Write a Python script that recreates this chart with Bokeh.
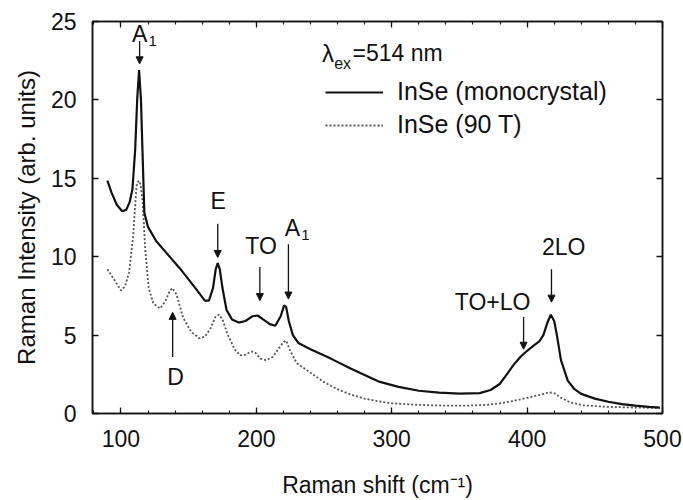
from bokeh.plotting import figure
from bokeh.models import (Range1d, LinearAxis, SingleIntervalTicker, Label, Arrow,
                          NormalHead, Legend, LegendItem, ColumnDataSource,
                          CustomLabelingPolicy)
from bokeh.embed import file_html
from bokeh.resources import INLINE

# ---- data ----
mono_x = [90, 93, 97, 101, 104, 106.5, 108.5, 110.5, 112, 113.4, 114.8, 116, 117.3, 120, 126,
          135, 145, 155, 162, 165, 168, 170, 171.5, 173, 175, 178, 182, 187, 192, 197, 201,
          205, 210, 214, 218, 220.5, 222, 224, 227, 231, 240, 255, 270, 280, 290, 305, 320,
          335, 350, 365, 373, 380, 385, 390, 395, 400, 405, 409, 412, 415, 417.5, 420, 422,
          425, 430, 435, 440, 450, 460, 470, 480, 490, 498]
mono_y = [14.85, 14.1, 13.3, 12.9, 13.0, 13.5, 14.3, 16.8, 20.0, 21.9, 20.0, 16.5, 12.8, 11.9, 11.0,
          10.1, 9.1, 8.0, 7.2, 7.2, 8.0, 9.2, 9.6, 9.2, 8.0, 6.6, 6.0, 5.8, 5.9, 6.2, 6.25,
          6.0, 5.7, 5.6, 6.2, 6.9, 6.8, 5.9, 5.0, 4.5, 4.1, 3.5, 2.85, 2.45, 2.05, 1.7, 1.45,
          1.33, 1.27, 1.3, 1.5, 1.9, 2.5, 3.1, 3.6, 4.0, 4.35, 4.6, 5.0, 5.8, 6.3, 5.9, 5.0,
          3.4, 2.1, 1.55, 1.25, 0.95, 0.75, 0.6, 0.5, 0.42, 0.38]

t90_x = [90, 93, 96, 100, 103, 106, 109, 111.5, 113, 114.5, 116, 118, 120.5, 124, 129, 133, 136,
         138, 141, 146, 152, 158, 162, 166, 170, 172.5, 175, 179, 184, 188, 192, 196, 199, 203,
         207, 212, 217, 220, 222, 225, 230, 240, 250, 260, 270, 280, 290, 300, 320, 340, 355,
         370, 380, 390, 400, 410, 416, 420, 425, 432, 442, 460, 480, 498]
t90_y = [9.2, 8.8, 8.4, 7.85, 8.1, 9.0, 11.3, 14.5, 14.85, 14.6, 13.5, 10.4, 8.0, 7.0, 6.7, 7.2, 7.8,
         8.0, 7.6, 6.1, 5.2, 4.8, 4.9, 5.4, 6.2, 6.3, 6.0, 5.0, 4.1, 3.7, 3.75, 3.95, 3.9, 3.5,
         3.4, 3.6, 4.2, 4.55, 4.65, 4.0, 3.2, 2.6, 2.0, 1.55, 1.2, 0.95, 0.78, 0.65, 0.55, 0.5, 0.5,
         0.55, 0.65, 0.8, 1.0, 1.2, 1.35, 1.3, 1.0, 0.7, 0.52, 0.42, 0.38, 0.35]

series_labels = ["InSe (monocrystal)", "InSe (90 T)"]

# peak annotations
ann_text = ["E", "TO", "2LO", "TO+LO", "D"]
ann_x = [171.9, 203.5, 427.0, 374.5, 140.4]
ann_y = [13.58, 10.7, 10.6, 7.1, 2.3]

a1_x = [113.9, 226.6]
a1_y = [24.23, 11.8]

arr_x = [113.8, 171.5, 202.6, 223.7, 418.0, 397.4, 138.2]
arr_y0 = [23.75, 12.1, 9.35, 10.8, 9.2, 6.15, 3.6]
arr_y1 = [22.3, 9.95, 7.2, 7.3, 7.1, 4.1, 6.45]

FONT = "Liberation Sans"
TXT = "#111111"

p = figure(width=683, height=500, x_range=Range1d(79, 500), y_range=Range1d(0, 25),
           output_backend="svg", toolbar_location=None,
           min_border_left=92, min_border_right=21, min_border_top=21, min_border_bottom=87)
p.xgrid.visible = False
p.ygrid.visible = False
p.outline_line_color = "#111111"
p.outline_line_width = 1.5
p.background_fill_color = "white"
p.border_fill_color = "white"

xt = SingleIntervalTicker(interval=100, num_minor_ticks=5)
yt = SingleIntervalTicker(interval=5, num_minor_ticks=0)

def style_axis(ax, labels=True):
    ax.axis_line_color = "#111111"
    ax.axis_line_width = 1.5
    ax.major_tick_in = 6
    ax.major_tick_out = 0
    ax.minor_tick_in = 3
    ax.minor_tick_out = 0
    ax.major_tick_line_color = "#111111"
    ax.minor_tick_line_color = "#111111"
    ax.major_tick_line_width = 1.3
    ax.minor_tick_line_width = 1.1
    ax.major_label_text_font = FONT
    ax.major_label_text_color = TXT
    if labels:
        ax.major_label_text_font_size = "23px"
    else:
        ax.major_label_text_font_size = "8px"
        ax.major_label_standoff = 0
        ax.major_label_policy = CustomLabelingPolicy(code="return new Set()")

xa = p.xaxis[0]
xa.ticker = xt
style_axis(xa)
xa.major_label_standoff = 16
xa.axis_label = "Raman shift (cm\u207b\u00b9)"
xa.axis_label_text_font = FONT
xa.axis_label_text_font_size = "23px"
xa.axis_label_text_font_style = "normal"
xa.axis_label_text_color = TXT
xa.axis_label_standoff = 22

ya = p.yaxis[0]
ya.ticker = yt
style_axis(ya)
ya.minor_tick_line_color = None
ya.major_label_standoff = 16
ya.axis_label = "Raman Intensity (arb. units)"
ya.axis_label_text_font = FONT
ya.axis_label_text_font_size = "24px"
ya.axis_label_text_font_style = "normal"
ya.axis_label_text_color = TXT
ya.axis_label_standoff = 8

top = LinearAxis(ticker=xt)
style_axis(top, labels=False)
p.add_layout(top, "above")
right = LinearAxis(ticker=yt)
style_axis(right, labels=False)
right.minor_tick_line_color = None
p.add_layout(right, "right")

src_m = ColumnDataSource(dict(x=mono_x, y=mono_y))
src_t = ColumnDataSource(dict(x=t90_x, y=t90_y))
r_t = p.line("x", "y", source=src_t, line_color="#555555", line_width=1.8, line_dash="2 2")
r_m = p.line("x", "y", source=src_m, line_color="#111111", line_width=2.2)

legend = Legend(items=[LegendItem(label=series_labels[0], renderers=[r_m]),
                       LegendItem(label=series_labels[1], renderers=[r_t])],
                location=(233, 274), label_text_font=FONT, label_text_font_size="25px",
                label_text_color=TXT, glyph_width=58, glyph_height=20, label_standoff=14,
                spacing=4, padding=0, margin=0, border_line_color=None,
                background_fill_alpha=0)
p.add_layout(legend)

# lambda_ex = 514 nm
p.add_layout(Label(x=248.5, y=22.96, text="\u03bb", text_font=FONT, text_font_size="24px",
                   text_color=TXT, text_align="left", text_baseline="middle"))
p.add_layout(Label(x=257.5, y=22.3, text="ex", text_font=FONT, text_font_size="16px",
                   text_color=TXT, text_align="left", text_baseline="middle"))
p.add_layout(Label(x=271.0, y=22.96, text="=514 nm", text_font=FONT, text_font_size="23px",
                   text_color=TXT, text_align="left", text_baseline="middle"))

for t, x, y in zip(ann_text, ann_x, ann_y):
    p.add_layout(Label(x=x, y=y, text=t, text_font=FONT, text_font_size="23px",
                       text_color=TXT, text_align="center", text_baseline="middle"))

for x, y in zip(a1_x, a1_y):
    p.add_layout(Label(x=x, y=y, text="A", text_font=FONT, text_font_size="23px",
                       text_color=TXT, text_align="center", text_baseline="middle"))
    p.add_layout(Label(x=x, y=y, x_offset=13, y_offset=-7, text="1", text_font=FONT,
                       text_font_size="15px", text_color=TXT, text_align="center",
                       text_baseline="middle"))

for x, y0, y1 in zip(arr_x, arr_y0, arr_y1):
    p.add_layout(Arrow(x_start=x, y_start=y0, x_end=x, y_end=y1, line_color="#111111",
                       line_width=1.3,
                       end=NormalHead(size=7, fill_color="#111111", line_color="#111111",
                                      line_width=1)))

open("out.html", "w").write(file_html(p, INLINE))
